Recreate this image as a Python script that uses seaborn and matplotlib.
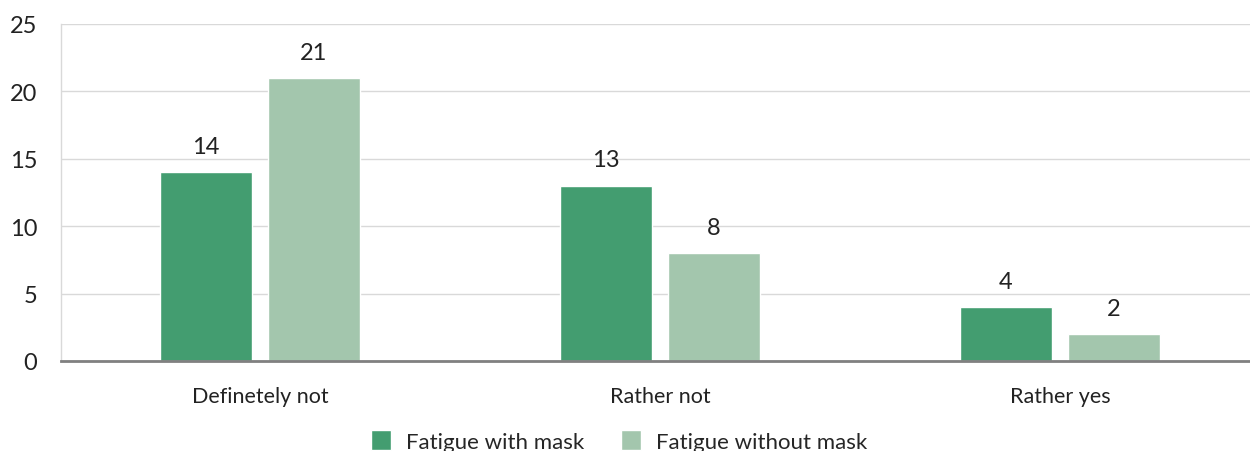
import matplotlib
matplotlib.use("Agg")
import matplotlib.pyplot as plt
import seaborn as sns
import pandas as pd

categories = ["Definetely not", "Rather not", "Rather yes"]
with_mask = [14, 13, 4]
without_mask = [21, 8, 2]
series_names = ["Fatigue with mask", "Fatigue without mask"]
colors = ["#439D70", "#A3C6AD"]
yticks = [0, 5, 10, 15, 20, 25]

df = pd.DataFrame({
    "category": categories * 2,
    "value": with_mask + without_mask,
    "series": [series_names[0]] * 3 + [series_names[1]] * 3,
})

sns.set_theme(style="white")
plt.rcParams["font.family"] = ["Lato", "DejaVu Sans"]

fig = plt.figure(figsize=(12.5, 4.52), dpi=100)
ax = fig.add_axes([61 / 1250, 1 - 362 / 452, (1250 - 61) / 1250, 337 / 452])

sns.barplot(data=df, x="category", y="value", hue="series", palette=colors,
            width=0.54, gap=0.157, ax=ax, saturation=1, legend=True)

ax.set_xlim(-0.4975, 2.475)
ax.set_ylim(0, 25)
ax.set_yticks(yticks)
ax.set_yticklabels([str(t) for t in yticks], fontsize=17, color="#222222")
ax.tick_params(axis="y", length=0, pad=17)
ax.tick_params(axis="x", length=0, pad=18, labelsize=15.5, labelcolor="#222222")
ax.set_xlabel("")
ax.set_ylabel("")
ax.grid(axis="y", color="#d9d9d9", linewidth=1)
ax.set_axisbelow(True)
for s in ["top", "right"]:
    ax.spines[s].set_visible(False)
ax.spines["left"].set_color("#d9d9d9")
ax.spines["left"].set_linewidth(1)
ax.spines["bottom"].set_color("#808080")
ax.spines["bottom"].set_linewidth(2)

for cont in ax.containers:
    ax.bar_label(cont, labels=[f"{v:.0f}" for v in cont.datavalues],
                 padding=11, fontsize=17, color="#222222")

handles, labels = ax.get_legend_handles_labels()
ax.legend_.remove()
fig.legend(handles, labels, loc="upper center", bbox_to_anchor=(0.495, 0.09),
           ncol=2, frameon=False, fontsize=16, handlelength=0.9, handleheight=1.0,
           columnspacing=1.65, handletextpad=0.68)

fig.savefig("out.png", dpi=100)
